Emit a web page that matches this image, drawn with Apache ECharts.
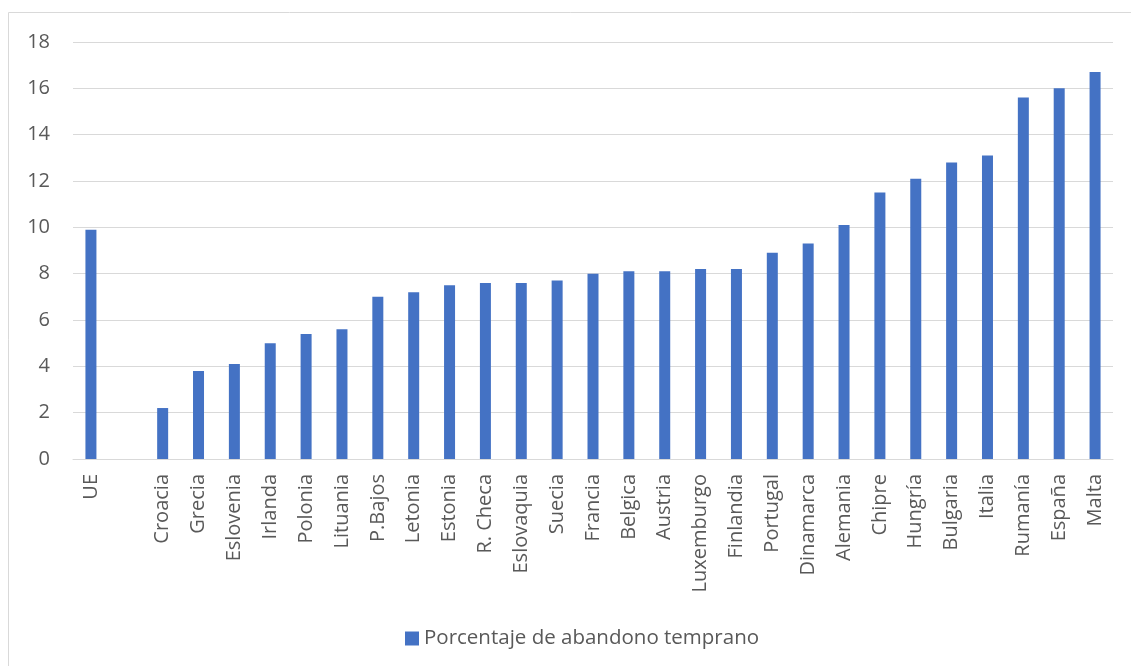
<!DOCTYPE html>
<html><head><meta charset="utf-8">
<script src="https://cdn.jsdelivr.net/npm/echarts@6/dist/echarts.min.js"></script>
<style>html,body{margin:0;padding:0;background:#fff}#c{width:1131px;height:666px}</style>
</head><body><div id="c"></div>
<script>
const categories = ["UE","","Croacia","Grecia","Eslovenia","Irlanda","Polonia","Lituania","P.Bajos","Letonia","Estonia","R. Checa","Eslovaquia","Suecia","Francia","Belgica","Austria","Luxemburgo","Finlandia","Portugal","Dinamarca","Alemania","Chipre","Hungría","Bulgaria","Italia","Rumanía","España","Malta"];
const values = [9.9,null,2.2,3.8,4.1,5.0,5.4,5.6,7.0,7.2,7.5,7.6,7.6,7.7,8.0,8.1,8.1,8.2,8.2,8.9,9.3,10.1,11.5,12.1,12.8,13.1,15.6,16.0,16.7];
const seriesName = "Porcentaje de abandono temprano";
const yTicks = [0,2,4,6,8,10,12,14,16,18];

const chart = echarts.init(document.getElementById('c'), null, {renderer:'canvas'});
const font = "'Open Sans', 'Noto Sans', sans-serif";
chart.setOption({
  animation:false,
  textStyle:{fontFamily:font},
  graphic:[{type:'rect',shape:{x:8.5,y:12.5,width:1130,height:670},style:{fill:'none',stroke:'#d9d9d9',lineWidth:1},silent:true}],
  grid:{left:73,right:18,top:42,bottom:207,containLabel:false},
  legend:{data:[seriesName],left:400,top:623,itemWidth:14,itemHeight:14,itemGap:6,icon:'rect',
    textStyle:{color:'#595959',fontSize:20.5,fontFamily:font}},
  xAxis:{type:'category',data:categories,
    axisLine:{lineStyle:{color:'#d9d9d9',width:1}},axisTick:{show:false},
    axisLabel:{rotate:90,interval:0,color:'#595959',fontSize:20,fontFamily:font,margin:15}},
  yAxis:{type:'value',min:0,max:18,interval:2,
    axisLine:{show:false},axisTick:{show:false},
    splitLine:{lineStyle:{color:'#d9d9d9',width:1}},
    axisLabel:{color:'#595959',fontSize:20,fontFamily:font,margin:23,
      formatter:v=>yTicks.includes(v)?String(v):''}},
  series:[{name:seriesName,type:'bar',data:values,barWidth:11,
    itemStyle:{color:'#4472c4'}}]
});
</script></body></html>
